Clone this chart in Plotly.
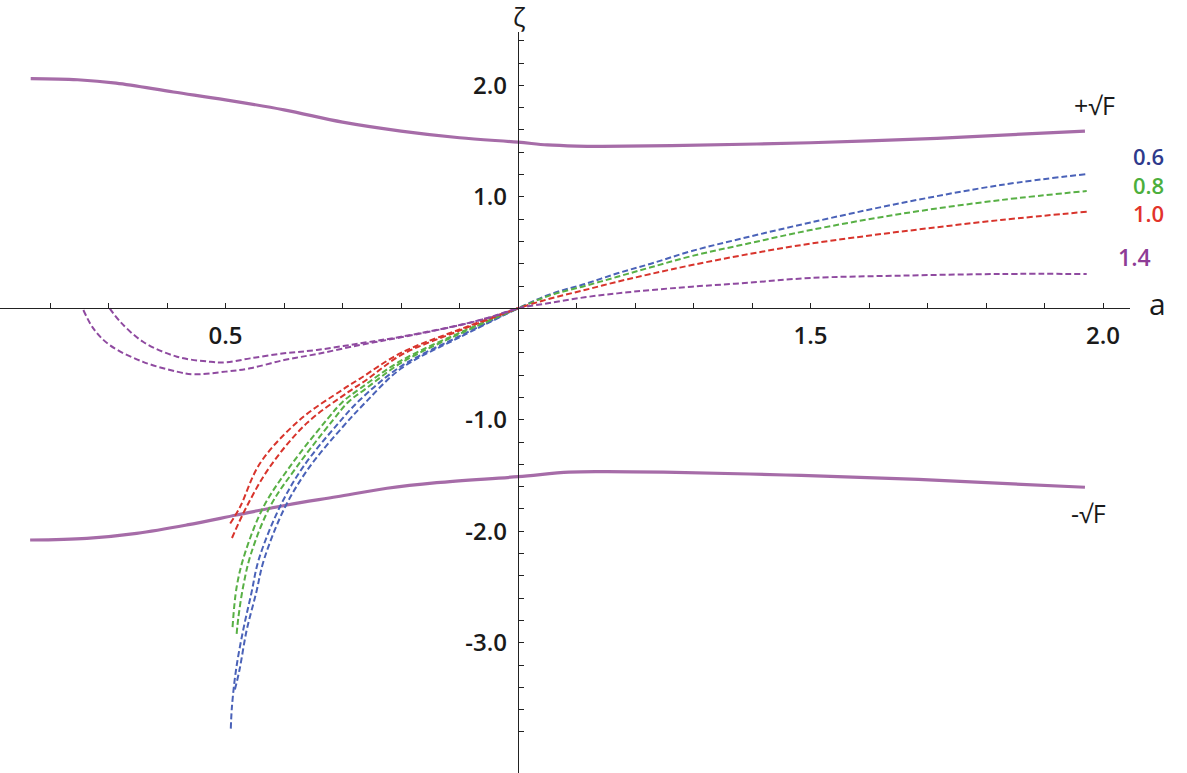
import numpy as np
import plotly.graph_objects as go

W, H = 1187, 773

# solid boundaries +sqrt(F) / -sqrt(F)
a_upper = [0.167, 0.247, 0.313, 0.411, 0.5, 0.6, 0.7, 0.8, 0.9, 1.0, 1.05, 1.1, 1.144, 1.262, 1.5, 1.716, 1.969]
zeta_upper = [2.06, 2.05, 2.02, 1.94, 1.87, 1.78, 1.67, 1.59, 1.53, 1.49, 1.465, 1.455, 1.453, 1.46, 1.485, 1.525, 1.59]
a_lower = [0.166, 0.263, 0.348, 0.434, 0.519, 0.605, 0.690, 0.776, 0.861, 1.0, 1.087, 1.144, 1.249, 1.457, 1.684, 1.969]
zeta_lower = [-2.078, -2.063, -2.018, -1.943, -1.854, -1.764, -1.69, -1.614, -1.564, -1.51, -1.47, -1.465, -1.47, -1.495, -1.535, -1.605]

# dashed curves, right branch (a > 1), shared abscissae
a_right = [1.057, 1.114, 1.17, 1.227, 1.297, 1.395, 1.5, 1.653, 1.825, 1.972]
z06_right = [0.13, 0.218, 0.314, 0.40, 0.514, 0.642, 0.77, 0.942, 1.106, 1.204]
z08_right = [0.12, 0.20, 0.283, 0.368, 0.469, 0.583, 0.702, 0.846, 0.971, 1.052]
z10_right = [0.09, 0.164, 0.239, 0.308, 0.388, 0.487, 0.58, 0.687, 0.792, 0.866]
z14_right = [0.05, 0.099, 0.134, 0.164, 0.194, 0.23, 0.272, 0.293, 0.308, 0.308]

# dashed curves, left branches (a < 1), two per value
a06_left1 = [0.509, 0.511, 0.518, 0.530, 0.544, 0.557, 0.593, 0.633, 0.693, 0.73, 0.80, 0.90, 1.0]
z06_left1 = [-3.77, -3.57, -3.24, -2.89, -2.56, -2.25, -1.78, -1.42, -1.03, -0.82, -0.52, -0.25, 0.0]
a06_left2 = [0.516, 0.524, 0.536, 0.552, 0.566, 0.602, 0.644, 0.701, 0.74, 0.80, 0.90, 1.0]
z06_left2 = [-3.42, -3.24, -2.89, -2.56, -2.25, -1.78, -1.42, -1.06, -0.84, -0.54, -0.26, 0.0]

a08_left1 = [0.512, 0.519, 0.533, 0.565, 0.61, 0.673, 0.70, 0.73, 0.80, 0.90, 1.0]
z08_left1 = [-2.86, -2.50, -2.20, -1.78, -1.42, -1.0, -0.84, -0.72, -0.47, -0.22, 0.0]
a08_left2 = [0.519, 0.522, 0.530, 0.543, 0.576, 0.622, 0.684, 0.71, 0.74, 0.80, 0.90, 1.0]
z08_left2 = [-2.92, -2.77, -2.50, -2.21, -1.78, -1.42, -1.0, -0.84, -0.72, -0.49, -0.23, 0.0]

a10_left1 = [0.508, 0.525, 0.559, 0.627, 0.70, 0.73, 0.80, 0.90, 1.0]
z10_left1 = [-1.93, -1.78, -1.39, -1.0, -0.73, -0.63, -0.40, -0.19, 0.0]
a10_left2 = [0.511, 0.536, 0.576, 0.639, 0.71, 0.74, 0.80, 0.90, 1.0]
z10_left2 = [-2.06, -1.78, -1.42, -1.03, -0.75, -0.645, -0.42, -0.20, 0.0]

a14_left1 = [0.302, 0.320, 0.359, 0.417, 0.473, 0.50, 0.542, 0.60, 0.656, 0.73, 0.80, 0.90, 0.955, 1.0]
z14_left1 = [0.0, -0.12, -0.30, -0.434, -0.479, -0.485, -0.449, -0.404, -0.374, -0.314, -0.255, -0.15, -0.075, 0.0]
a14_left2 = [0.257, 0.274, 0.302, 0.359, 0.417, 0.445, 0.50, 0.542, 0.60, 0.656, 0.73, 0.80, 0.90, 0.955, 1.0]
z14_left2 = [-0.015, -0.18, -0.33, -0.48, -0.568, -0.592, -0.568, -0.538, -0.464, -0.41, -0.329, -0.26, -0.152, -0.077, 0.0]

curve_labels = ["0.6", "0.8", "1.0", "1.4"]
x_tick_text = {0.5: "0.5", 1.5: "1.5", 2.0: "2.0"}
y_tick_text = {2.0: "2.0", 1.0: "1.0", -1.0: "-1.0", -2.0: "-2.0", -3.0: "-3.0"}

SOLID = "#a66ca8"
DASH_COLORS = ["#4a62b8", "#58b045", "#d8342c", "#8f4aa0"]
LABEL_COLORS = ["#2e3a8c", "#4caf3c", "#e2332b", "#8e3c96"]
FONT = "Open Sans"

fig = go.Figure()

for xs, ys in [(a_upper, zeta_upper), (a_lower, zeta_lower)]:
    fig.add_trace(go.Scatter(x=xs, y=ys, mode="lines", line=dict(color=SOLID, width=3.2, shape="spline"),
                             showlegend=False, hoverinfo="skip"))

dashed = [
    (a06_left1, z06_left1, a06_left2, z06_left2, z06_right),
    (a08_left1, z08_left1, a08_left2, z08_left2, z08_right),
    (a10_left1, z10_left1, a10_left2, z10_left2, z10_right),
    (a14_left1, z14_left1, a14_left2, z14_left2, z14_right),
]
for (xl1, yl1, xl2, yl2, yr), col in zip(dashed, DASH_COLORS):
    ln = dict(color=col, width=2, dash="6px,3px", shape="spline")
    fig.add_trace(go.Scatter(x=xl1 + a_right, y=yl1 + yr, mode="lines", line=ln,
                             showlegend=False, hoverinfo="skip"))
    fig.add_trace(go.Scatter(x=xl2, y=yl2, mode="lines", line=ln,
                             showlegend=False, hoverinfo="skip"))

# axis geometry (axes cross at a=1, zeta=0)
x_range = [0.1145, 2.046]
y_range = [-4.168, 2.481]
x_dom_end = 1130 / W
y_dom_end = (H - 31.7) / H
xpos = (1.0 - x_range[0]) / (x_range[1] - x_range[0]) * x_dom_end
ypos = (0.0 - y_range[0]) / (y_range[1] - y_range[0]) * y_dom_end

xt = [round(v, 1) for v in np.arange(0.2, 2.001, 0.1)]
yt = [round(v, 1) for v in np.arange(-3.8, 2.401, 0.2)]

tickfont = dict(family=FONT, size=24, color="#1a1a1a", weight=600)
fig.update_xaxes(range=x_range, domain=[0, x_dom_end], anchor="free", position=ypos,
                 showgrid=False, zeroline=False, showline=True, linecolor="#222", linewidth=1.4,
                 tickmode="array", tickvals=xt, ticktext=[x_tick_text.get(v, "") for v in xt],
                 ticks="inside", ticklen=5, tickwidth=1.2, tickcolor="#222",
                 ticklabelstandoff=6, tickfont=tickfont)
fig.update_yaxes(range=y_range, domain=[0, y_dom_end], anchor="free", position=xpos,
                 showgrid=False, zeroline=False, showline=True, linecolor="#222", linewidth=1.4,
                 tickmode="array", tickvals=yt, ticktext=[y_tick_text.get(v, "") for v in yt],
                 ticks="inside", ticklen=5, tickwidth=1.2, tickcolor="#222",
                 ticklabelstandoff=6, tickfont=tickfont)

def add_text(txt, px, py, size, color="#1a1a1a", weight=400):
    fig.add_annotation(x=px / W, y=1 - py / H, xref="paper", yref="paper", text=txt, showarrow=False,
                       xanchor="center", yanchor="middle", borderpad=0,
                       font=dict(family=FONT, size=size, color=color, weight=weight))

add_text("ζ", 519, 17, 26)
add_text("a", 1157, 303, 30)
add_text("+√F", 1094, 105, 25)
add_text("-√F", 1088, 513, 25)

# the three closely stacked curve labels share one text block
stack = "<br>".join(f'<span style="color:{c}">{t}</span>'
                    for t, c in zip(curve_labels[:3], LABEL_COLORS[:3]))
add_text(stack, 1148, 184, 22, weight=600)
add_text(curve_labels[3], 1134, 257, 23, color=LABEL_COLORS[3], weight=600)

fig.update_layout(width=W, height=H, margin=dict(l=0, r=0, t=0, b=0),
                  paper_bgcolor="white", plot_bgcolor="white", showlegend=False)

# page body has a default 8px margin; drop it so the figure sits at the window origin
fig.write_html("out.html", config={"displayModeBar": False},
               post_script="document.body.style.margin='0';document.body.style.overflow='hidden';")
